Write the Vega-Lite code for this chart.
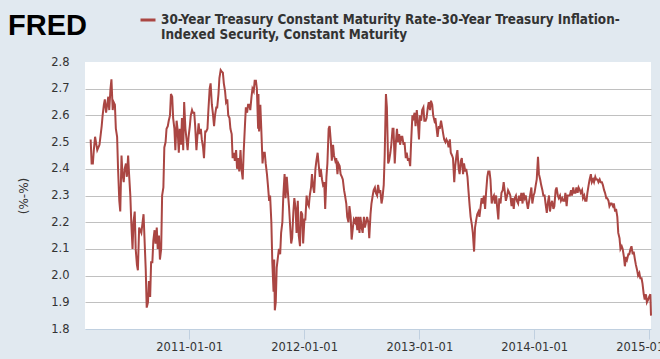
{
  "$schema": "https://vega.github.io/schema/vega-lite/v6.json",
  "width": 566,
  "height": 267,
  "autosize": {"type": "none"},
  "padding": {"left": 85, "top": 62, "right": 9, "bottom": 30},
  "background": "#e1e9f0",
  "config": {"view": {"fill": "#ffffff", "stroke": null}},
  "data": {"values": [
{"d":"2010-02-22","v":2.51},{"d":"2010-02-25","v":2.42},{"d":"2010-03-01","v":2.42},{"d":"2010-03-04","v":2.47},{"d":"2010-03-08","v":2.52},{"d":"2010-03-15","v":2.47},{"d":"2010-03-22","v":2.49},{"d":"2010-03-29","v":2.56},{"d":"2010-04-01","v":2.60},{"d":"2010-04-05","v":2.64},{"d":"2010-04-08","v":2.66},{"d":"2010-04-12","v":2.61},{"d":"2010-04-19","v":2.67},{"d":"2010-04-22","v":2.62},{"d":"2010-04-26","v":2.70},{"d":"2010-04-29","v":2.735},{"d":"2010-05-03","v":2.62},{"d":"2010-05-06","v":2.65},{"d":"2010-05-10","v":2.64},{"d":"2010-05-13","v":2.55},{"d":"2010-05-17","v":2.52},{"d":"2010-05-20","v":2.40},{"d":"2010-05-24","v":2.28},{"d":"2010-05-27","v":2.24},{"d":"2010-05-31","v":2.45},{"d":"2010-06-03","v":2.38},{"d":"2010-06-07","v":2.35},{"d":"2010-06-10","v":2.40},{"d":"2010-06-14","v":2.42},{"d":"2010-06-17","v":2.37},{"d":"2010-06-21","v":2.45},{"d":"2010-06-24","v":2.38},{"d":"2010-06-28","v":2.30},{"d":"2010-07-01","v":2.20},{"d":"2010-07-05","v":2.10},{"d":"2010-07-08","v":2.20},{"d":"2010-07-12","v":2.24},{"d":"2010-07-15","v":2.10},{"d":"2010-07-19","v":2.04},{"d":"2010-07-22","v":2.02},{"d":"2010-07-26","v":2.18},{"d":"2010-08-02","v":2.16},{"d":"2010-08-09","v":2.23},{"d":"2010-08-12","v":2.14},{"d":"2010-08-16","v":2.02},{"d":"2010-08-19","v":1.88},{"d":"2010-08-23","v":1.90},{"d":"2010-08-26","v":1.98},{"d":"2010-08-30","v":1.92},{"d":"2010-09-02","v":2.05},{"d":"2010-09-06","v":2.05},{"d":"2010-09-09","v":2.13},{"d":"2010-09-13","v":2.17},{"d":"2010-09-16","v":2.12},{"d":"2010-09-20","v":2.18},{"d":"2010-09-23","v":2.10},{"d":"2010-09-27","v":2.15},{"d":"2010-09-30","v":2.06},{"d":"2010-10-04","v":2.10},{"d":"2010-10-07","v":2.30},{"d":"2010-10-11","v":2.33},{"d":"2010-10-14","v":2.48},{"d":"2010-10-18","v":2.50},{"d":"2010-10-21","v":2.55},{"d":"2010-10-25","v":2.56},{"d":"2010-10-28","v":2.58},
{"d":"2010-11-01","v":2.60},{"d":"2010-11-04","v":2.68},{"d":"2010-11-08","v":2.67},{"d":"2010-11-11","v":2.59},{"d":"2010-11-15","v":2.55},{"d":"2010-11-18","v":2.47},{"d":"2010-11-22","v":2.58},{"d":"2010-11-25","v":2.55},{"d":"2010-11-29","v":2.46},{"d":"2010-12-02","v":2.55},{"d":"2010-12-06","v":2.49},{"d":"2010-12-09","v":2.59},{"d":"2010-12-13","v":2.47},{"d":"2010-12-16","v":2.65},{"d":"2010-12-20","v":2.55},{"d":"2010-12-27","v":2.47},{"d":"2010-12-30","v":2.52},
{"d":"2011-01-03","v":2.56},{"d":"2011-01-06","v":2.60},{"d":"2011-01-10","v":2.62},{"d":"2011-01-13","v":2.61},{"d":"2011-01-17","v":2.61},{"d":"2011-01-20","v":2.56},{"d":"2011-01-24","v":2.47},{"d":"2011-01-27","v":2.52},{"d":"2011-01-31","v":2.57},{"d":"2011-02-03","v":2.53},{"d":"2011-02-07","v":2.55},{"d":"2011-02-10","v":2.51},{"d":"2011-02-14","v":2.48},{"d":"2011-02-17","v":2.44},{"d":"2011-02-21","v":2.54},{"d":"2011-02-24","v":2.54},{"d":"2011-02-28","v":2.55},{"d":"2011-03-03","v":2.62},{"d":"2011-03-07","v":2.70},{"d":"2011-03-10","v":2.72},{"d":"2011-03-14","v":2.64},{"d":"2011-03-17","v":2.61},{"d":"2011-03-21","v":2.56},{"d":"2011-03-24","v":2.60},{"d":"2011-03-28","v":2.63},{"d":"2011-03-31","v":2.63},{"d":"2011-04-04","v":2.68},{"d":"2011-04-07","v":2.74},{"d":"2011-04-11","v":2.77},{"d":"2011-04-14","v":2.765},{"d":"2011-04-18","v":2.76},{"d":"2011-04-21","v":2.72},{"d":"2011-04-25","v":2.69},{"d":"2011-04-28","v":2.65},{"d":"2011-05-02","v":2.66},{"d":"2011-05-05","v":2.60},{"d":"2011-05-09","v":2.59},{"d":"2011-05-12","v":2.55},{"d":"2011-05-16","v":2.53},{"d":"2011-05-19","v":2.44},{"d":"2011-05-23","v":2.46},{"d":"2011-05-26","v":2.43},{"d":"2011-05-30","v":2.47},{"d":"2011-06-02","v":2.40},{"d":"2011-06-06","v":2.44},{"d":"2011-06-09","v":2.39},{"d":"2011-06-13","v":2.47},{"d":"2011-06-16","v":2.40},{"d":"2011-06-20","v":2.36},{"d":"2011-06-23","v":2.46},{"d":"2011-06-27","v":2.56},{"d":"2011-06-30","v":2.63},{"d":"2011-07-04","v":2.61},{"d":"2011-07-07","v":2.64},{"d":"2011-07-11","v":2.64},{"d":"2011-07-14","v":2.62},{"d":"2011-07-18","v":2.67},{"d":"2011-07-21","v":2.70},{"d":"2011-07-25","v":2.69},{"d":"2011-07-28","v":2.73},{"d":"2011-08-01","v":2.73},{"d":"2011-08-04","v":2.70},{"d":"2011-08-08","v":2.55},{"d":"2011-08-09","v":2.68},{"d":"2011-08-11","v":2.54},{"d":"2011-08-15","v":2.64},{"d":"2011-08-18","v":2.55},{"d":"2011-08-22","v":2.42},{"d":"2011-08-25","v":2.46},{"d":"2011-08-29","v":2.46},{"d":"2011-09-01","v":2.42},{"d":"2011-09-05","v":2.38},{"d":"2011-09-08","v":2.34},{"d":"2011-09-12","v":2.28},{"d":"2011-09-15","v":2.30},{"d":"2011-09-19","v":2.20},{"d":"2011-09-22","v":2.05},{"d":"2011-09-26","v":1.94},{"d":"2011-09-28","v":2.06},{"d":"2011-09-30","v":1.87},{"d":"2011-10-03","v":1.90},{"d":"2011-10-06","v":2.03},{"d":"2011-10-10","v":2.07},{"d":"2011-10-13","v":2.10},{"d":"2011-10-17","v":2.08},{"d":"2011-10-20","v":2.16},{"d":"2011-10-24","v":2.20},{"d":"2011-10-27","v":2.30},{"d":"2011-10-31","v":2.38},{"d":"2011-11-03","v":2.29},{"d":"2011-11-07","v":2.37},{"d":"2011-11-10","v":2.32},{"d":"2011-11-14","v":2.26},{"d":"2011-11-17","v":2.20},{"d":"2011-11-21","v":2.12},{"d":"2011-11-24","v":2.14},{"d":"2011-11-28","v":2.24},{"d":"2011-12-01","v":2.29},{"d":"2011-12-05","v":2.25},{"d":"2011-12-08","v":2.16},{"d":"2011-12-12","v":2.28},{"d":"2011-12-15","v":2.15},{"d":"2011-12-19","v":2.11},{"d":"2011-12-22","v":2.24},{"d":"2011-12-26","v":2.23},{"d":"2011-12-29","v":2.12},
{"d":"2012-01-02","v":2.21},{"d":"2012-01-05","v":2.21},{"d":"2012-01-09","v":2.30},{"d":"2012-01-12","v":2.27},{"d":"2012-01-16","v":2.26},{"d":"2012-01-19","v":2.30},{"d":"2012-01-23","v":2.33},{"d":"2012-01-26","v":2.38},{"d":"2012-01-30","v":2.33},{"d":"2012-02-02","v":2.31},{"d":"2012-02-06","v":2.40},{"d":"2012-02-09","v":2.43},{"d":"2012-02-13","v":2.46},{"d":"2012-02-16","v":2.42},{"d":"2012-02-20","v":2.37},{"d":"2012-02-23","v":2.40},{"d":"2012-02-27","v":2.36},{"d":"2012-03-01","v":2.34},{"d":"2012-03-05","v":2.35},{"d":"2012-03-08","v":2.25},{"d":"2012-03-12","v":2.37},{"d":"2012-03-15","v":2.42},{"d":"2012-03-19","v":2.55},{"d":"2012-03-22","v":2.56},{"d":"2012-03-26","v":2.50},{"d":"2012-03-29","v":2.43},{"d":"2012-04-02","v":2.49},{"d":"2012-04-05","v":2.45},{"d":"2012-04-09","v":2.43},{"d":"2012-04-12","v":2.44},{"d":"2012-04-16","v":2.38},{"d":"2012-04-19","v":2.42},{"d":"2012-04-23","v":2.41},{"d":"2012-04-26","v":2.38},{"d":"2012-04-30","v":2.37},{"d":"2012-05-03","v":2.36},{"d":"2012-05-07","v":2.32},{"d":"2012-05-10","v":2.30},{"d":"2012-05-14","v":2.27},{"d":"2012-05-17","v":2.22},{"d":"2012-05-21","v":2.20},{"d":"2012-05-24","v":2.26},{"d":"2012-05-28","v":2.22},{"d":"2012-05-31","v":2.135},{"d":"2012-06-04","v":2.18},{"d":"2012-06-07","v":2.21},{"d":"2012-06-11","v":2.20},{"d":"2012-06-14","v":2.22},{"d":"2012-06-18","v":2.17},{"d":"2012-06-21","v":2.22},{"d":"2012-06-25","v":2.16},{"d":"2012-06-28","v":2.22},{"d":"2012-07-02","v":2.18},{"d":"2012-07-05","v":2.16},{"d":"2012-07-09","v":2.22},{"d":"2012-07-12","v":2.18},{"d":"2012-07-16","v":2.20},{"d":"2012-07-19","v":2.22},{"d":"2012-07-23","v":2.20},{"d":"2012-07-26","v":2.14},{"d":"2012-07-30","v":2.23},{"d":"2012-08-02","v":2.27},{"d":"2012-08-06","v":2.30},{"d":"2012-08-09","v":2.32},{"d":"2012-08-13","v":2.33},{"d":"2012-08-16","v":2.31},{"d":"2012-08-20","v":2.30},{"d":"2012-08-23","v":2.34},{"d":"2012-08-27","v":2.31},{"d":"2012-08-30","v":2.32},{"d":"2012-09-03","v":2.27},{"d":"2012-09-06","v":2.29},{"d":"2012-09-10","v":2.34},{"d":"2012-09-13","v":2.45},{"d":"2012-09-17","v":2.68},{"d":"2012-09-20","v":2.63},{"d":"2012-09-24","v":2.42},{"d":"2012-09-27","v":2.43},{"d":"2012-10-01","v":2.46},{"d":"2012-10-04","v":2.49},{"d":"2012-10-08","v":2.55},{"d":"2012-10-11","v":2.55},{"d":"2012-10-15","v":2.42},{"d":"2012-10-18","v":2.49},{"d":"2012-10-22","v":2.55},{"d":"2012-10-25","v":2.50},{"d":"2012-10-29","v":2.53},{"d":"2012-11-01","v":2.49},{"d":"2012-11-05","v":2.52},{"d":"2012-11-08","v":2.52},{"d":"2012-11-12","v":2.49},{"d":"2012-11-15","v":2.50},{"d":"2012-11-19","v":2.44},{"d":"2012-11-22","v":2.46},{"d":"2012-11-26","v":2.43},{"d":"2012-11-29","v":2.44},{"d":"2012-12-03","v":2.41},{"d":"2012-12-06","v":2.50},{"d":"2012-12-10","v":2.60},{"d":"2012-12-13","v":2.59},{"d":"2012-12-17","v":2.61},{"d":"2012-12-20","v":2.56},{"d":"2012-12-24","v":2.62},{"d":"2012-12-27","v":2.58},{"d":"2012-12-31","v":2.51},
{"d":"2013-01-03","v":2.60},{"d":"2013-01-07","v":2.58},{"d":"2013-01-10","v":2.62},{"d":"2013-01-14","v":2.63},{"d":"2013-01-17","v":2.58},{"d":"2013-01-21","v":2.58},{"d":"2013-01-24","v":2.59},{"d":"2013-01-28","v":2.63},{"d":"2013-01-31","v":2.65},{"d":"2013-02-04","v":2.62},{"d":"2013-02-07","v":2.655},{"d":"2013-02-11","v":2.64},{"d":"2013-02-14","v":2.60},{"d":"2013-02-18","v":2.58},{"d":"2013-02-21","v":2.59},{"d":"2013-02-25","v":2.55},{"d":"2013-02-28","v":2.52},{"d":"2013-03-04","v":2.56},{"d":"2013-03-07","v":2.55},{"d":"2013-03-11","v":2.58},{"d":"2013-03-14","v":2.56},{"d":"2013-03-18","v":2.53},{"d":"2013-03-21","v":2.51},{"d":"2013-03-25","v":2.50},{"d":"2013-03-28","v":2.51},{"d":"2013-04-01","v":2.50},{"d":"2013-04-04","v":2.48},{"d":"2013-04-08","v":2.51},{"d":"2013-04-11","v":2.46},{"d":"2013-04-15","v":2.45},{"d":"2013-04-18","v":2.44},{"d":"2013-04-22","v":2.35},{"d":"2013-04-25","v":2.41},{"d":"2013-04-29","v":2.45},{"d":"2013-05-02","v":2.47},{"d":"2013-05-06","v":2.40},{"d":"2013-05-09","v":2.38},{"d":"2013-05-13","v":2.43},{"d":"2013-05-16","v":2.44},{"d":"2013-05-20","v":2.38},{"d":"2013-05-23","v":2.42},{"d":"2013-05-27","v":2.39},{"d":"2013-05-30","v":2.40},{"d":"2013-06-03","v":2.37},{"d":"2013-06-06","v":2.32},{"d":"2013-06-10","v":2.26},{"d":"2013-06-13","v":2.22},{"d":"2013-06-17","v":2.19},{"d":"2013-06-20","v":2.16},{"d":"2013-06-24","v":2.09},{"d":"2013-06-27","v":2.18},{"d":"2013-07-01","v":2.21},{"d":"2013-07-04","v":2.23},{"d":"2013-07-08","v":2.24},{"d":"2013-07-11","v":2.22},{"d":"2013-07-15","v":2.26},{"d":"2013-07-18","v":2.29},{"d":"2013-07-22","v":2.27},{"d":"2013-07-25","v":2.30},{"d":"2013-07-29","v":2.25},{"d":"2013-08-01","v":2.31},{"d":"2013-08-05","v":2.37},{"d":"2013-08-08","v":2.39},{"d":"2013-08-12","v":2.39},{"d":"2013-08-15","v":2.36},{"d":"2013-08-19","v":2.27},{"d":"2013-08-22","v":2.29},{"d":"2013-08-26","v":2.30},{"d":"2013-08-29","v":2.27},{"d":"2013-09-02","v":2.30},{"d":"2013-09-05","v":2.26},{"d":"2013-09-09","v":2.21},{"d":"2013-09-12","v":2.29},{"d":"2013-09-16","v":2.27},{"d":"2013-09-19","v":2.31},{"d":"2013-09-23","v":2.32},{"d":"2013-09-26","v":2.35},{"d":"2013-09-30","v":2.31},{"d":"2013-10-03","v":2.28},{"d":"2013-10-07","v":2.30},{"d":"2013-10-10","v":2.32},{"d":"2013-10-14","v":2.31},{"d":"2013-10-17","v":2.30},{"d":"2013-10-21","v":2.26},{"d":"2013-10-24","v":2.29},{"d":"2013-10-28","v":2.25},{"d":"2013-10-31","v":2.29},{"d":"2013-11-04","v":2.30},{"d":"2013-11-07","v":2.28},{"d":"2013-11-11","v":2.27},{"d":"2013-11-14","v":2.30},{"d":"2013-11-18","v":2.28},{"d":"2013-11-21","v":2.31},{"d":"2013-11-25","v":2.27},{"d":"2013-11-28","v":2.31},{"d":"2013-12-02","v":2.29},{"d":"2013-12-05","v":2.30},{"d":"2013-12-09","v":2.27},{"d":"2013-12-12","v":2.25},{"d":"2013-12-16","v":2.28},{"d":"2013-12-19","v":2.30},{"d":"2013-12-23","v":2.33},{"d":"2013-12-26","v":2.27},{"d":"2013-12-30","v":2.30},
{"d":"2014-01-02","v":2.31},{"d":"2014-01-06","v":2.34},{"d":"2014-01-09","v":2.36},{"d":"2014-01-13","v":2.445},{"d":"2014-01-16","v":2.38},{"d":"2014-01-20","v":2.36},{"d":"2014-01-23","v":2.34},{"d":"2014-01-27","v":2.32},{"d":"2014-01-30","v":2.30},{"d":"2014-02-03","v":2.30},{"d":"2014-02-06","v":2.27},{"d":"2014-02-10","v":2.235},{"d":"2014-02-13","v":2.27},{"d":"2014-02-17","v":2.30},{"d":"2014-02-20","v":2.24},{"d":"2014-02-24","v":2.27},{"d":"2014-02-27","v":2.28},{"d":"2014-03-03","v":2.25},{"d":"2014-03-06","v":2.26},{"d":"2014-03-10","v":2.32},{"d":"2014-03-13","v":2.33},{"d":"2014-03-17","v":2.30},{"d":"2014-03-20","v":2.29},{"d":"2014-03-24","v":2.30},{"d":"2014-03-27","v":2.28},{"d":"2014-03-31","v":2.29},{"d":"2014-04-03","v":2.28},{"d":"2014-04-07","v":2.28},{"d":"2014-04-10","v":2.31},{"d":"2014-04-14","v":2.26},{"d":"2014-04-17","v":2.30},{"d":"2014-04-21","v":2.30},{"d":"2014-04-24","v":2.30},{"d":"2014-04-28","v":2.32},{"d":"2014-05-01","v":2.30},{"d":"2014-05-05","v":2.33},{"d":"2014-05-08","v":2.31},{"d":"2014-05-12","v":2.31},{"d":"2014-05-15","v":2.33},{"d":"2014-05-19","v":2.31},{"d":"2014-05-22","v":2.33},{"d":"2014-05-26","v":2.32},{"d":"2014-05-29","v":2.31},{"d":"2014-06-02","v":2.32},{"d":"2014-06-05","v":2.29},{"d":"2014-06-09","v":2.30},{"d":"2014-06-12","v":2.28},{"d":"2014-06-16","v":2.28},{"d":"2014-06-19","v":2.31},{"d":"2014-06-23","v":2.34},{"d":"2014-06-26","v":2.36},{"d":"2014-06-30","v":2.38},{"d":"2014-07-03","v":2.35},{"d":"2014-07-07","v":2.36},{"d":"2014-07-10","v":2.35},{"d":"2014-07-14","v":2.37},{"d":"2014-07-17","v":2.36},{"d":"2014-07-21","v":2.36},{"d":"2014-07-24","v":2.35},{"d":"2014-07-28","v":2.36},{"d":"2014-07-31","v":2.35},{"d":"2014-08-04","v":2.35},{"d":"2014-08-07","v":2.34},{"d":"2014-08-11","v":2.32},{"d":"2014-08-14","v":2.31},{"d":"2014-08-18","v":2.29},{"d":"2014-08-21","v":2.29},{"d":"2014-08-25","v":2.28},{"d":"2014-08-28","v":2.26},{"d":"2014-09-01","v":2.27},{"d":"2014-09-04","v":2.27},{"d":"2014-09-08","v":2.26},{"d":"2014-09-11","v":2.27},{"d":"2014-09-15","v":2.24},{"d":"2014-09-18","v":2.25},{"d":"2014-09-22","v":2.22},{"d":"2014-09-25","v":2.16},{"d":"2014-09-29","v":2.14},{"d":"2014-10-02","v":2.10},{"d":"2014-10-06","v":2.11},{"d":"2014-10-09","v":2.10},{"d":"2014-10-13","v":2.07},{"d":"2014-10-16","v":2.035},{"d":"2014-10-20","v":2.07},{"d":"2014-10-23","v":2.06},{"d":"2014-10-27","v":2.08},{"d":"2014-10-30","v":2.08},{"d":"2014-11-03","v":2.10},{"d":"2014-11-06","v":2.11},{"d":"2014-11-10","v":2.08},{"d":"2014-11-13","v":2.09},{"d":"2014-11-17","v":2.06},{"d":"2014-11-20","v":2.04},{"d":"2014-11-24","v":2.02},{"d":"2014-11-27","v":2.00},{"d":"2014-12-01","v":2.01},{"d":"2014-12-04","v":1.99},{"d":"2014-12-08","v":1.99},{"d":"2014-12-11","v":1.97},{"d":"2014-12-15","v":1.93},{"d":"2014-12-18","v":1.91},{"d":"2014-12-22","v":1.93},{"d":"2014-12-25","v":1.90},{"d":"2014-12-29","v":1.91},{"d":"2015-01-01","v":1.92},{"d":"2015-01-05","v":1.93},{"d":"2015-01-07","v":1.85}
  ]},
  "mark": {"type": "line", "strokeWidth": 2, "color": "#aa4643"},
  "encoding": {
    "x": {
      "field": "d", "type": "temporal",
      "scale": {"type": "utc", "domain": [{"year": 2010, "month": 2, "date": 4, "utc": true}, {"year": 2015, "month": 1, "date": 7, "utc": true}]},
      "axis": {
        "title": null, "grid": false,
        "values": [{"year": 2011, "month": 1, "date": 1, "utc": true}, {"year": 2012, "month": 1, "date": 1, "utc": true}, {"year": 2013, "month": 1, "date": 1, "utc": true}, {"year": 2014, "month": 1, "date": 1, "utc": true}, {"year": 2015, "month": 1, "date": 1, "utc": true}],
        "format": "%Y-%m-%d",
        "domainColor": "#c0d0e0", "tickColor": "#c0d0e0", "tickSize": 10,
        "labelFont": "DejaVu Sans", "labelFontSize": 11.5, "labelColor": "#333333",
        "labelPadding": 2, "labelFlush": false, "labelOverlap": false, "labelBound": false
      }
    },
    "y": {
      "field": "v", "type": "quantitative",
      "scale": {"domain": [1.8, 2.8], "nice": false, "zero": false},
      "axis": {
        "title": "(%-%)", "titleFont": "DejaVu Sans", "titleFontSize": 12, "titleFontWeight": "normal", "titleColor": "#333333", "titlePadding": 20,
        "values": [1.8, 1.9, 2.0, 2.1, 2.2, 2.3, 2.4, 2.5, 2.6, 2.7, 2.8],
        "format": ".1f", "domain": false, "ticks": false, "labelPadding": 16,
        "labelFont": "DejaVu Sans", "labelFontSize": 11.5, "labelColor": "#333333",
        "gridColor": "#c0c0c0", "gridOpacity": {"condition": {"test": "datum.value >= 2.8 || datum.value <= 1.8", "value": 0}, "value": 1}
      }
    },
    "color": {
      "datum": "series",
      "scale": {"range": ["#aa4643"]},
      "legend": {
        "orient": "none", "legendX": -77, "legendY": -51, "direction": "horizontal",
        "title": "FRED", "titleOrient": "left", "titleFont": "Liberation Sans", "titleFontSize": 29, "titleFontWeight": 900, "titleColor": "#000000", "titlePadding": 52,
        "symbolType": "stroke", "symbolStrokeWidth": 3, "symbolSize": 225,
        "labelExpr": "['30-Year Treasury Constant Maturity Rate-30-Year Treasury Inflation-', 'Indexed Security, Constant Maturity']",
        "labelFont": "DejaVu Sans Condensed", "labelFontSize": 13.4, "labelFontWeight": "bold", "labelColor": "#333333", "labelLimit": 700, "labelOffset": 4
      }
    }
  }
}
